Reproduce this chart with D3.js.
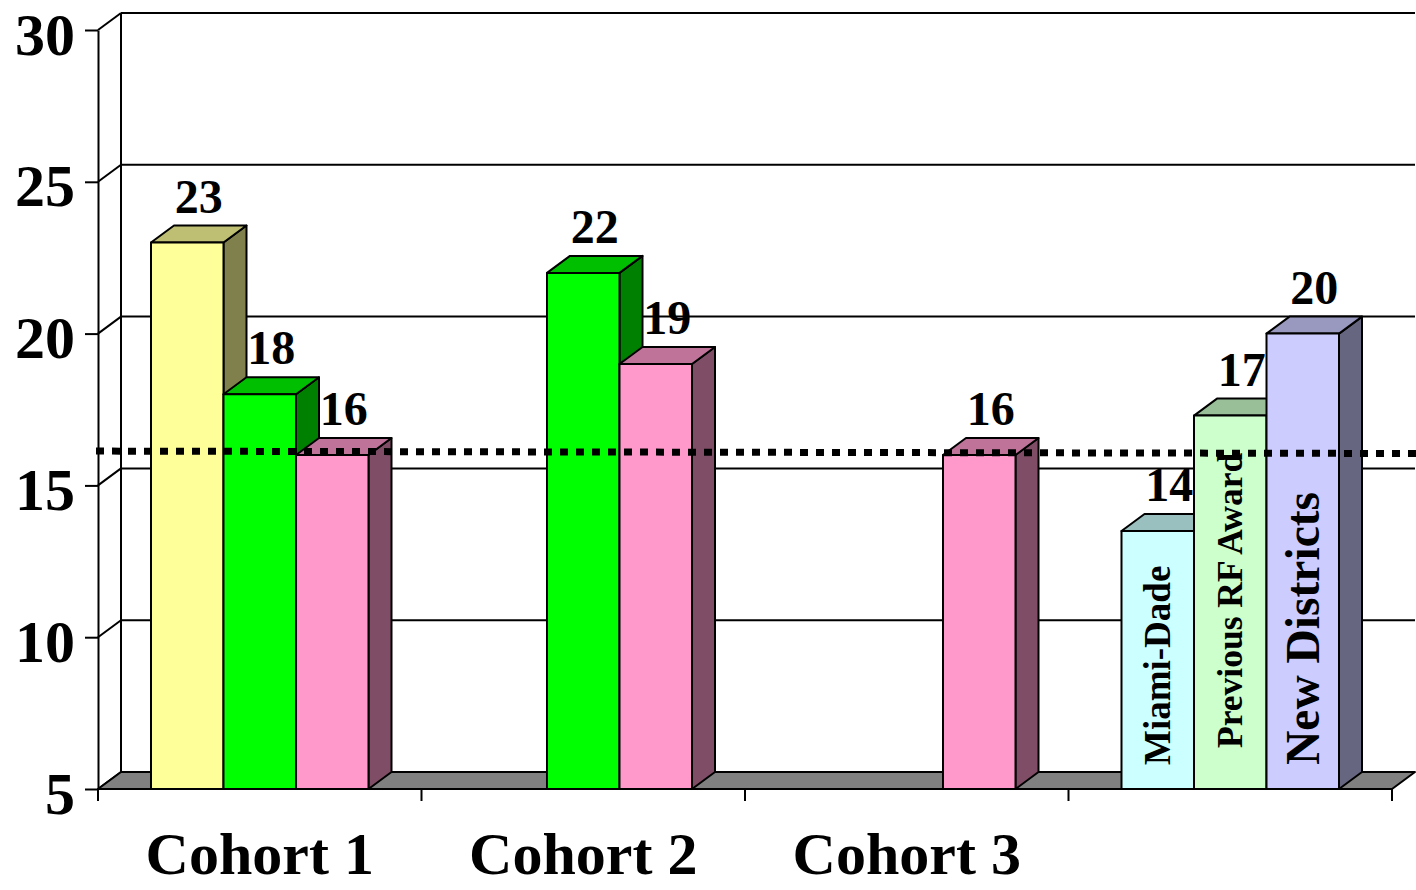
<!DOCTYPE html>
<html>
<head>
<meta charset="utf-8">
<script src="https://cdn.jsdelivr.net/npm/d3@7"></script>
<style>
  html, body { margin: 0; padding: 0; background: #fff; }
  svg { display: block; }
  text { font-family: "Liberation Serif", "Times New Roman", serif; font-weight: bold; fill: #000; }
</style>
</head>
<body>
<svg id="chart" width="1416" height="890"></svg>
<script>
// ---- data ----
const categories = ["Cohort 1", "Cohort 2", "Cohort 3", ""];
const slots = [0, 1, 2];
// values per category, per slot (null = no bar)
const slot1Values = [23, null, null, 13.5];
const slot2Values = [18, 22, null, 17.3];
const slot3Values = [16, 19, 16, 20];
const groupFourNames = ["Miami-Dade", "Previous RF Award", "New Districts"];
const yTicks = [5, 10, 15, 20, 25, 30];
const referenceLine = [16.13, 16.05]; // dotted line, left and right value

// ---- styles ----
const palette = {
  yellow:   { front: "#FFFF99", top: "#BFBF73", side: "#80804D" },
  green:    { front: "#00FF00", top: "#00BF00", side: "#008000" },
  pink:     { front: "#FF99CC", top: "#BF7399", side: "#804D66" },
  cyan:     { front: "#CCFFFF", top: "#99BFBF", side: "#668080" },
  ltgreen:  { front: "#CCFFCC", top: "#99BF99", side: "#668066" },
  lavender: { front: "#CCCCFF", top: "#9999BF", side: "#666680" }
};
const slotColors = [
  ["yellow", null, null, "cyan"],
  ["green", "green", null, "ltgreen"],
  ["pink", "pink", "pink", "lavender"]
];
const innerLabelSizes = [37, 35.5, 47.5];
const innerLabelLift = [24, 41, 24];

const DX = 23, DY = -17;
const svg = d3.select("#chart");

const y = d3.scaleLinear().domain([5, 30]).range([789, 30]);
const x0 = d3.scaleBand().domain(categories.map((c, i) => i)).range([98, 1392]);
const x1 = d3.scaleBand().domain(slots).range([0, x0.bandwidth()]).paddingInner(0).paddingOuter(0.731);

const seriesValues = [slot1Values, slot2Values, slot3Values];
const yBase = y(5);
const xLeft = x0.range()[0], xRight = x0.range()[1];

// ---- back wall gridlines ----
const wall = svg.append("g").attr("stroke", "#000").attr("stroke-width", 2).attr("fill", "none");
wall.selectAll("line.grid").data(yTicks).join("line")
  .attr("x1", xLeft + DX).attr("x2", xRight + DX)
  .attr("y1", d => y(d) + DY).attr("y2", d => y(d) + DY);
wall.selectAll("line.diag").data(yTicks).join("line")
  .attr("x1", xLeft).attr("x2", xLeft + DX)
  .attr("y1", d => y(d)).attr("y2", d => y(d) + DY);
wall.append("line")
  .attr("x1", xLeft + DX).attr("x2", xLeft + DX)
  .attr("y1", y(30) + DY).attr("y2", yBase + DY);

// ---- floor ----
svg.append("polygon")
  .attr("points", [[xLeft, yBase], [xRight, yBase], [xRight + DX, yBase + DY], [xLeft + DX, yBase + DY]].join(" "))
  .attr("fill", "#808080").attr("stroke", "#000").attr("stroke-width", 2).attr("stroke-linejoin", "round");

// ---- bars ----
const bars = [];
categories.forEach((c, ci) => {
  slots.forEach(s => {
    const v = seriesValues[s][ci];
    if (v == null) return;
    bars.push({ ci, s, v, color: palette[slotColors[s][ci]] });
  });
});

const barG = svg.append("g").attr("stroke", "#000").attr("stroke-width", 2).attr("stroke-linejoin", "round");
bars.forEach(b => {
  const x = x0(b.ci) + x1(b.s), w = x1.bandwidth();
  const yt = y(b.v);
  const g = barG.append("g");
  g.append("polygon")
    .attr("points", [[x + w, yt], [x + w + DX, yt + DY], [x + w + DX, yBase + DY], [x + w, yBase]].join(" "))
    .attr("fill", b.color.side);
  g.append("polygon")
    .attr("points", [[x, yt], [x + DX, yt + DY], [x + w + DX, yt + DY], [x + w, yt]].join(" "))
    .attr("fill", b.color.top);
  g.append("rect")
    .attr("x", x).attr("y", yt).attr("width", w).attr("height", yBase - yt)
    .attr("fill", b.color.front);
});

// ---- axes ----
const yAxis = svg.append("g").attr("transform", `translate(${xLeft},0)`)
  .call(d3.axisLeft(y).tickValues(yTicks).tickSize(13).tickSizeOuter(0).tickPadding(10).tickFormat(d3.format("d")));
yAxis.selectAll("path, line").attr("stroke", "#000").attr("stroke-width", 2);
yAxis.selectAll("text").attr("font-size", 60).attr("dy", "0.4em")
  .attr("font-family", "Liberation Serif, serif").attr("font-weight", "bold").attr("fill", "#000");

const xAx = svg.append("g").attr("stroke", "#000").attr("stroke-width", 2);
xAx.append("line").attr("x1", xLeft).attr("x2", xRight).attr("y1", yBase).attr("y2", yBase);
const boundaries = categories.map((c, i) => x0(i)).concat([xRight]);
xAx.selectAll("line.tick").data(boundaries).join("line")
  .attr("x1", d => d).attr("x2", d => d).attr("y1", yBase).attr("y2", yBase + 12);

svg.append("g").selectAll("text").data(categories).join("text")
  .attr("x", (d, i) => x0(i) + x0.bandwidth() / 2)
  .attr("y", 874)
  .attr("text-anchor", "middle")
  .attr("font-size", 60)
  .text(d => d);

// ---- value labels ----
const fmt = d3.format(".0f");
svg.append("g").selectAll("text").data(bars).join("text")
  .attr("x", b => x0(b.ci) + x1(b.s) + x1.bandwidth() / 2 + DX / 2)
  .attr("y", b => y(b.v) - 30)
  .attr("text-anchor", "middle")
  .attr("font-size", 48)
  .text(b => fmt(b.v));

// ---- series names inside group-four bars ----
svg.append("g").selectAll("text").data(groupFourNames).join("text")
  .attr("transform", (d, s) => `translate(${x0(3) + x1(s) + x1.bandwidth() / 2},${yBase - innerLabelLift[s]}) rotate(-90)`)
  .attr("dominant-baseline", "central")
  .attr("text-anchor", "start")
  .attr("font-size", (d, s) => innerLabelSizes[s])
  .text(d => d);

// ---- dotted reference line ----
svg.append("line")
  .attr("x1", 96).attr("x2", 1416)
  .attr("y1", y(referenceLine[0])).attr("y2", y(referenceLine[1]))
  .attr("stroke", "#000").attr("stroke-width", 7).attr("stroke-dasharray", "8,8");
</script>
</body>
</html>
